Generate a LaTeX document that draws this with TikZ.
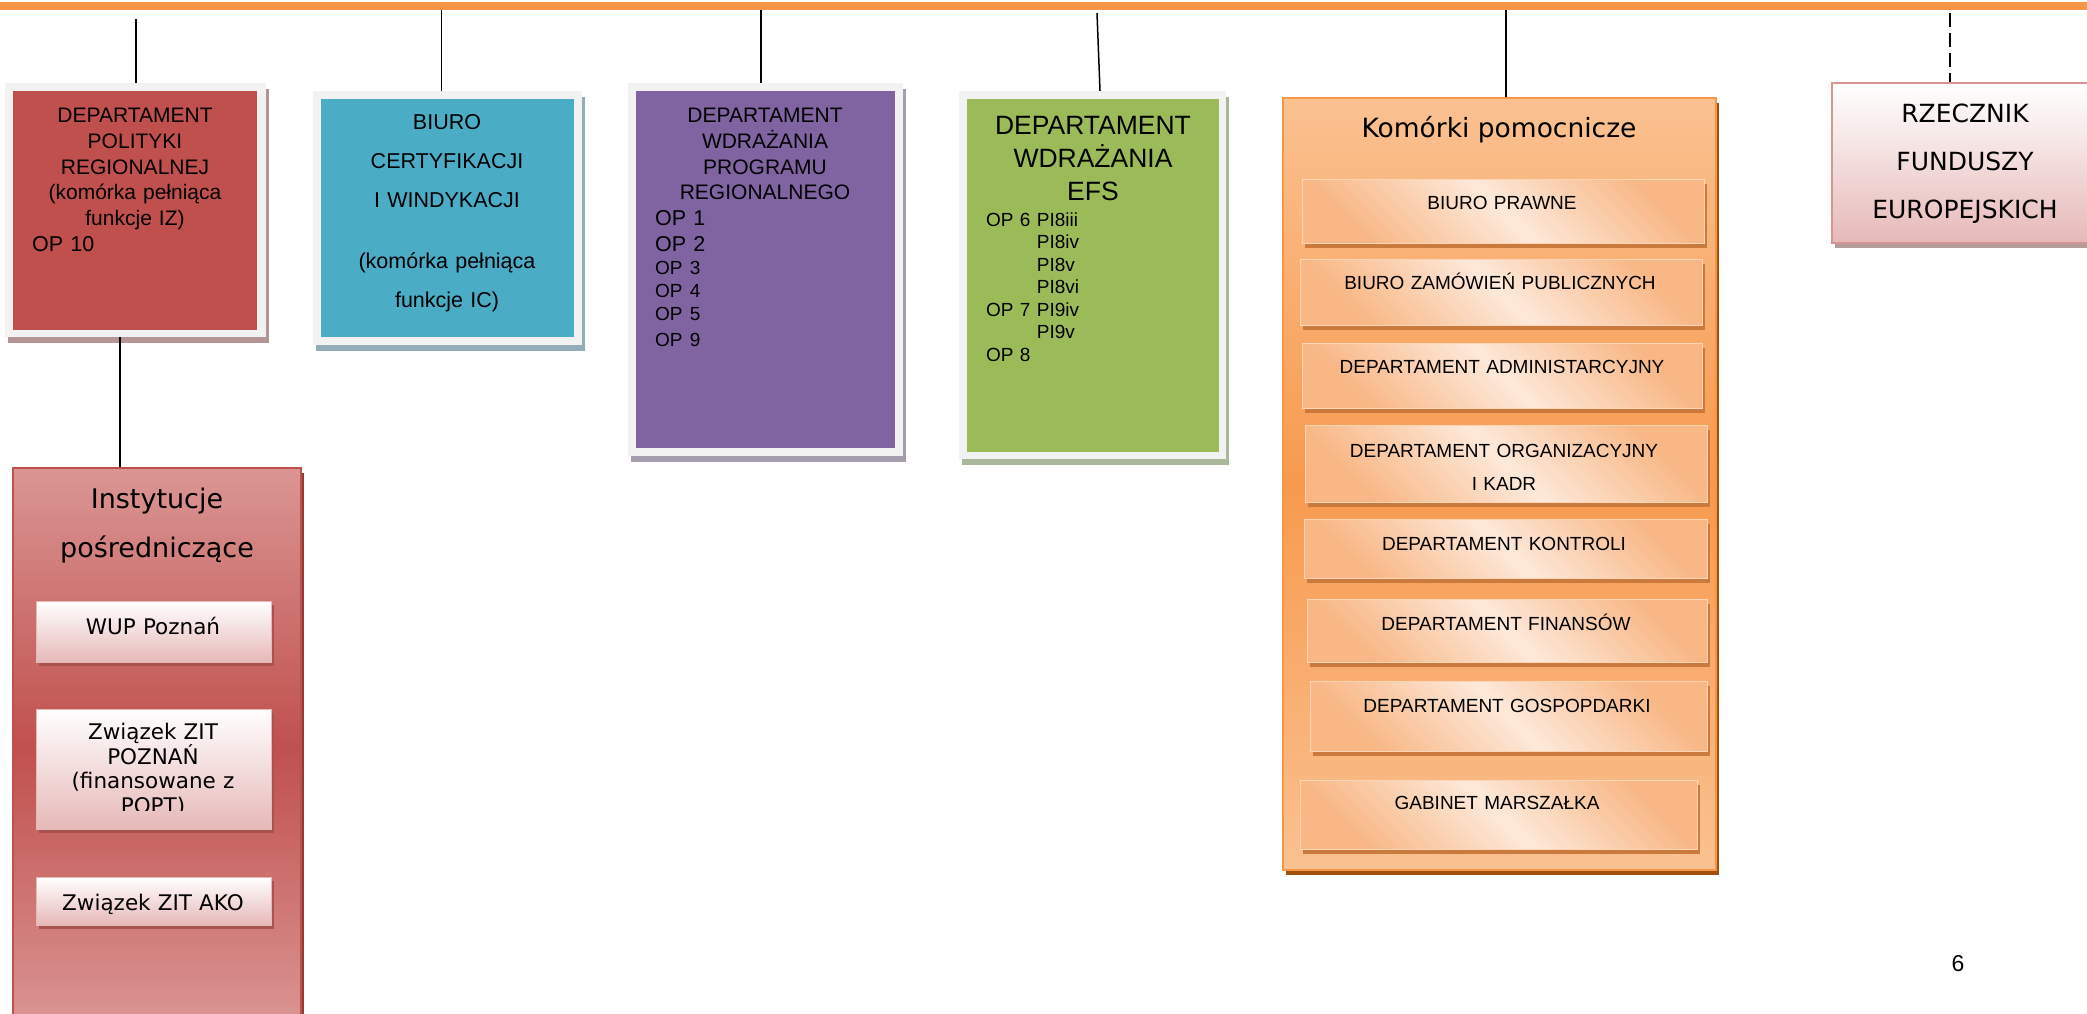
\documentclass[tikz,border=0pt]{standalone}
\usepackage{fontspec}
\setmainfont{Liberation Sans}
\newfontfamily\verdana{DejaVu Sans}
\usetikzlibrary{shapes, shadows, positioning}
\definecolor{barorange}{HTML}{F79646}
\definecolor{framegray}{HTML}{F2F2F2}
\definecolor{dprred}{HTML}{C0504D}
\definecolor{bcblue}{HTML}{4BACC6}
\definecolor{dwpviolet}{HTML}{8064A2}
\definecolor{dwegreen}{HTML}{9BBB59}
\definecolor{redshadow}{HTML}{B49596}
\definecolor{blueshadow}{HTML}{93ADB8}
\definecolor{violetshadow}{HTML}{A39DAD}
\definecolor{greenshadow}{HTML}{A9B79B}
\definecolor{orglight}{HTML}{FAC191}
\definecolor{orgmid}{HTML}{F79A4E}
\definecolor{orgborder}{HTML}{F79646}
\definecolor{orgshadow}{HTML}{A14F0A}
\definecolor{orgtan}{HTML}{F8B785}
\definecolor{orgcream}{HTML}{FDE9DA}
\definecolor{orgsubshadow}{HTML}{C97A3C}
\definecolor{instlight}{HTML}{DA9694}
\definecolor{instdark}{HTML}{C0504D}
\definecolor{instshadow}{HTML}{963A37}
\definecolor{pinklow}{HTML}{E6B9B8}
\definecolor{pinkborder}{HTML}{D99594}
\definecolor{pinkshadow}{HTML}{A9534F}
\definecolor{rfeshadow}{HTML}{B59C9C}
\tikzstyle{line} = [draw, line width = 1.5pt]
\tikzstyle{line2} = [draw, line width = 1.5pt, dash pattern = on 14pt off 6pt]
\tikzstyle{frame} = [rectangle, fill = framegray, inner sep = 0pt]
\tikzstyle{panel} = [rectangle, inner sep = 0pt]
\tikzstyle{title} = [inner sep = 0pt, anchor = base, align = center]
\tikzstyle{oplist} = [inner sep = 0pt, anchor = base west, align = left]
\tikzstyle{subbox} = [rectangle, inner sep = 0pt, minimum width = 400, top color = orgtan, bottom color = orgtan, middle color = orgcream, shading angle = -45, draw = orgcream!60!orgtan, line width = 1pt, drop shadow = {shadow xshift = 3pt, shadow yshift = -5pt, fill = orgsubshadow, opacity = 1}]
\tikzstyle{subtext} = [inner sep = 0pt, anchor = base, align = center, text width = 390, font = \fontsize{19}{33}\selectfont]
\tikzstyle{pinkbox} = [rectangle, inner sep = 0pt, minimum width = 235, top color = white, bottom color = pinklow, draw = pinklow, line width = 1pt, drop shadow = {shadow xshift = 3pt, shadow yshift = -4pt, fill = pinkshadow, opacity = 1}]
\tikzstyle{pinktext} = [inner sep = 0pt, anchor = base, align = center, text width = 230, font = \verdana\fontsize{21.5}{24.5}\selectfont]

\begin{document}
\begin{tikzpicture}[x = 1pt, y = -1pt]
	\useasboundingbox (0, 0) rectangle (2087, 1013);
	\fill [white] (0, 0) rectangle (2087, 1013);
	\clip (0, 0) rectangle (2087, 1013);
	% Place nodes
	\node [frame, minimum width = 261, minimum height = 254, drop shadow = {shadow xshift = 3pt, shadow yshift = -6pt, fill = redshadow, opacity = 1}] (dprframe) at (135, 210) {};
	\node [panel, fill = dprred, minimum width = 244, minimum height = 239] (dpr) at (135, 210.5) {};
	\node [title, text width = 240, font = \fontsize{21}{25.8}\selectfont] (dprtitle) at (135, 122.5) {DEPARTAMENT\\POLITYKI\\REGIONALNEJ\\(komórka pełniąca\\funkcje IZ)};
	\node [oplist, text width = 200, font = \fontsize{21.5}{25.8}\selectfont] (dprop) at (32, 251.5) {OP 10};
	\node [frame, minimum width = 269, minimum height = 254, drop shadow = {shadow xshift = 3pt, shadow yshift = -6pt, fill = blueshadow, opacity = 1}] (bcframe) at (447.5, 218) {};
	\node [panel, fill = bcblue, minimum width = 253, minimum height = 238] (bc) at (447.5, 218) {};
	\node [title, text width = 250, font = \fontsize{21.5}{39}\selectfont] (bctitle) at (447, 129.5) {BIURO\\CERTYFIKACJI\\I WINDYKACJI\\[22pt](komórka pełniąca\\funkcje IC)};
	\node [frame, minimum width = 275, minimum height = 373, drop shadow = {shadow xshift = 3pt, shadow yshift = -6pt, fill = violetshadow, opacity = 1}] (dwpframe) at (765.5, 269.5) {};
	\node [panel, fill = dwpviolet, minimum width = 259, minimum height = 357] (dwp) at (765.5, 269.5) {};
	\node [title, text width = 255, font = \fontsize{21}{25.8}\selectfont] (dwptitle) at (765, 122.5) {DEPARTAMENT\\WDRAŻANIA\\PROGRAMU\\REGIONALNEGO};
	\node [oplist, text width = 200, font = \fontsize{21.5}{25.8}\selectfont] (dwpop) at (655, 225.5) {OP 1\\OP 2\par\fontsize{19}{23}\selectfont OP 3\\OP 4\\OP 5\\OP 9};
	\node [frame, minimum width = 267, minimum height = 368, drop shadow = {shadow xshift = 3pt, shadow yshift = -6pt, fill = greenshadow, opacity = 1}] (dweframe) at (1092.5, 275) {};
	\node [panel, fill = dwegreen, minimum width = 252, minimum height = 353] (dwe) at (1093, 275.5) {};
	\node [title, text width = 250, font = \fontsize{26.5}{33}\selectfont] (dwetitle) at (1093, 134.5) {DEPARTAMENT\\WDRAŻANIA\\EFS};
	\node [oplist, text width = 220, font = \fontsize{19}{22.5}\selectfont] (dweop) at (986, 226) {OP 6 PI8iii\\\hphantom{OP 6 }PI8iv\\\hphantom{OP 6 }PI8v\\\hphantom{OP 6 }PI8vi\\OP 7 PI9iv\\\hphantom{OP 7 }PI9v\\OP 8};
	\node [panel, minimum width = 433, minimum height = 772, top color = orglight, bottom color = orglight, middle color = orgmid, draw = orgborder, line width = 2pt, drop shadow = {shadow xshift = 3pt, shadow yshift = -5pt, fill = orgshadow, opacity = 1}] (kp) at (1499.5, 484) {};
	\node [title, font = \verdana\fontsize{26.5}{30}\selectfont] (kptitle) at (1499, 137) {Komórki pomocnicze};
	\node [subbox, minimum width = 402, minimum height = 64] (prawne) at (1503, 211) {};
	\node [subtext] (prawnetext) at (1502, 209) {BIURO PRAWNE};
	\node [subbox, minimum width = 402, minimum height = 66] (zamow) at (1501, 292) {};
	\node [subtext] (zamowtext) at (1500, 289) {BIURO ZAMÓWIEŃ PUBLICZNYCH};
	\node [subbox, minimum height = 65] (admin) at (1502, 375.5) {};
	\node [subtext] (admintext) at (1502, 373) {DEPARTAMENT ADMINISTARCYJNY};
	\node [subbox, minimum width = 402, minimum height = 77] (kadr) at (1506, 463.5) {};
	\node [subtext] (kadrtext) at (1504, 457) {DEPARTAMENT ORGANIZACYJNY\\I KADR};
	\node [subbox, minimum width = 403, minimum height = 59] (kontr) at (1505.5, 548.5) {};
	\node [subtext] (kontrtext) at (1504, 550.5) {DEPARTAMENT KONTROLI};
	\node [subbox, minimum height = 63] (finans) at (1507, 630.5) {};
	\node [subtext] (finanstext) at (1506, 630) {DEPARTAMENT FINANSÓW};
	\node [subbox, minimum width = 397, minimum height = 70] (gosp) at (1508.5, 716) {};
	\node [subtext] (gosptext) at (1507, 712) {DEPARTAMENT GOSPOPDARKI};
	\node [subbox, minimum width = 397, minimum height = 69] (gabinet) at (1498.5, 814.5) {};
	\node [subtext] (gabinettext) at (1497, 809) {GABINET MARSZAŁKA};
	\node [panel, minimum width = 288, minimum height = 560, top color = instlight, bottom color = instlight, middle color = instdark, draw = instdark, line width = 2pt, drop shadow = {shadow xshift = 3pt, shadow yshift = -5pt, fill = instshadow, opacity = 1}] (ip) at (157, 748) {};
	\node [title, text width = 280, font = \verdana\fontsize{27}{48.5}\selectfont] (iptitle) at (157, 508.5) {Instytucje\\pośredniczące};
	\node [pinkbox, minimum height = 61] (wup) at (153.5, 631.5) {};
	\node [pinktext] (wuptext) at (153, 634.5) {WUP Poznań};
	\node [pinkbox, minimum height = 120] (zitp) at (153.5, 769) {};
	\begin{scope}
		\clip (36, 709) rectangle (271, 810);
		\node [pinktext] (zitptext) at (153, 739.5) {Związek ZIT\\POZNAŃ\\(finansowane z\\POPT)};
	\end{scope}
	\node [pinkbox, minimum height = 48] (zita) at (153.5, 901) {};
	\node [pinktext] (zitatext) at (153, 910) {Związek ZIT AKO};
	\node [panel, minimum width = 266, minimum height = 160, top color = white, bottom color = pinklow, draw = pinkborder, line width = 2pt, drop shadow = {shadow xshift = 3pt, shadow yshift = -5pt, fill = rfeshadow, opacity = 1}] (rfe) at (1965, 163) {};
	\node [title, text width = 260, font = \verdana\fontsize{25}{48}\selectfont] (rfetitle) at (1965, 122) {RZECZNIK\\FUNDUSZY\\EUROPEJSKICH};
	\node [title, font = \fontsize{23}{26}\selectfont] (pagenum) at (1958, 971) {6};
	% Draw edges
	\coordinate (barleft) at (0, 6);
	\coordinate (barright) at (2087, 6);
	\path [draw, barorange, line width = 8pt] (barleft) -- (barright);
	\coordinate (t1) at (136, 19);
	\coordinate (t2) at (441.5, 10);
	\coordinate (t3) at (761, 10);
	\coordinate (t4) at (1097, 13);
	\coordinate (t5) at (1506, 10);
	\coordinate (t6) at (1950, 13);
	\coordinate (dprfoot) at ([xshift = -15pt] dprframe.south);
	\path [line] (t1) -- (t1 |- dprframe.north);
	\path [line] (t2) -- (t2 |- bcframe.north);
	\path [line] (t3) -- (t3 |- dwpframe.north);
	\path [line] (t4) -- ([xshift = 7.5pt] dweframe.north);
	\path [line] (t5) -- (t5 |- kp.north);
	\path [line2] (t6) -- (t6 |- rfe.north);
	\path [line] (dprfoot) -- (dprfoot |- ip.north);
\end{tikzpicture}
\end{document}
